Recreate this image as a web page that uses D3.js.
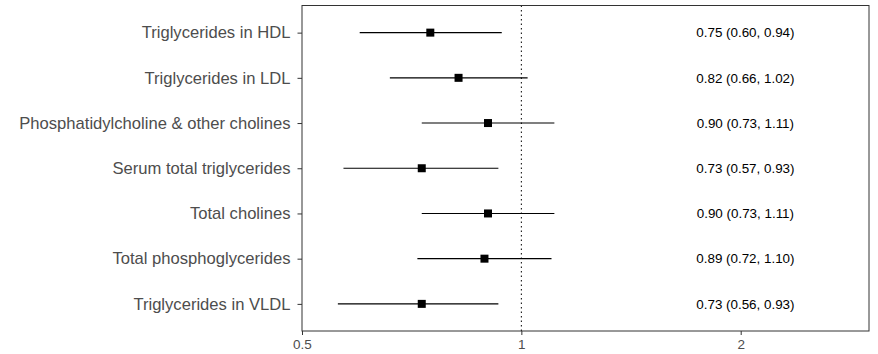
<!DOCTYPE html>
<html><head><meta charset="utf-8">
<script src="https://cdn.jsdelivr.net/npm/d3@7"></script>
<style>body{margin:0;background:#fff;} svg{display:block;}</style>
</head><body>
<svg id="chart" width="878" height="354"></svg>
<script>
const categories = ["Triglycerides in HDL","Triglycerides in LDL","Phosphatidylcholine & other cholines","Serum total triglycerides","Total cholines","Total phosphoglycerides","Triglycerides in VLDL"];
const estimates = [0.75,0.82,0.90,0.73,0.90,0.89,0.73];
const lower = [0.60,0.66,0.73,0.57,0.73,0.72,0.56];
const upper = [0.94,1.02,1.11,0.93,1.11,1.10,0.93];
const labels = ["0.75 (0.60, 0.94)","0.82 (0.66, 1.02)","0.90 (0.73, 1.11)","0.73 (0.57, 0.93)","0.90 (0.73, 1.11)","0.89 (0.72, 1.10)","0.73 (0.56, 0.93)"];
const xTicks = [0.5,1,2];
const xDomain = [0.5,3];
const refValue = 1;
const labelPos = 2.03;

const FONT = "'Liberation Sans', Arial, sans-serif";
const svg = d3.select("#chart");
const m = {left:302, top:5.5, right:9, bottom:23};
const W = 878 - m.left - m.right, H = 354 - m.top - m.bottom;
const g = svg.append("g").attr("transform",`translate(${m.left},${m.top})`);
const x = d3.scaleLog().domain(xDomain).range([0,W]);
const y = d3.scalePoint().domain(categories).range([0,H]).padding(0.6);

// reference line
g.append("line").attr("x1",x(refValue)).attr("x2",x(refValue)).attr("y1",0).attr("y2",H)
  .attr("stroke","#000").attr("stroke-width",1).attr("stroke-dasharray","1.5,3");

categories.forEach((c,i)=>{
  g.append("line").attr("x1",x(lower[i])).attr("x2",x(upper[i])).attr("y1",y(c)).attr("y2",y(c))
    .attr("stroke","#000").attr("stroke-width",1.1);
  g.append("rect").attr("x",x(estimates[i])-4).attr("y",y(c)-4).attr("width",8).attr("height",8).attr("fill","#000");
  g.append("text").attr("x",x(labelPos)).attr("y",y(c)).attr("dy","0.35em").attr("text-anchor","middle")
    .attr("font-family",FONT).attr("font-size",13.4).attr("fill","#000").text(labels[i]);
});

// panel border
g.append("rect").attr("x",0).attr("y",0).attr("width",W).attr("height",H).attr("fill","none").attr("stroke","#333").attr("stroke-width",1);

const xa = g.append("g").attr("transform",`translate(0,${H})`)
  .call(d3.axisBottom(x).tickValues(xTicks).tickFormat(d3.format("")).tickSize(4).tickPadding(4));
const ya = g.append("g").call(d3.axisLeft(y).tickSize(4.5).tickPadding(7));
[xa,ya].forEach(a=>{
  a.select(".domain").remove();
  a.selectAll(".tick line").attr("stroke","#333");
  a.selectAll(".tick text").attr("fill","#4d4d4d").attr("font-family",FONT);
});
xa.selectAll(".tick text").attr("font-size",13.5);
ya.selectAll(".tick text").attr("font-size",16.6);
</script>
</body></html>
